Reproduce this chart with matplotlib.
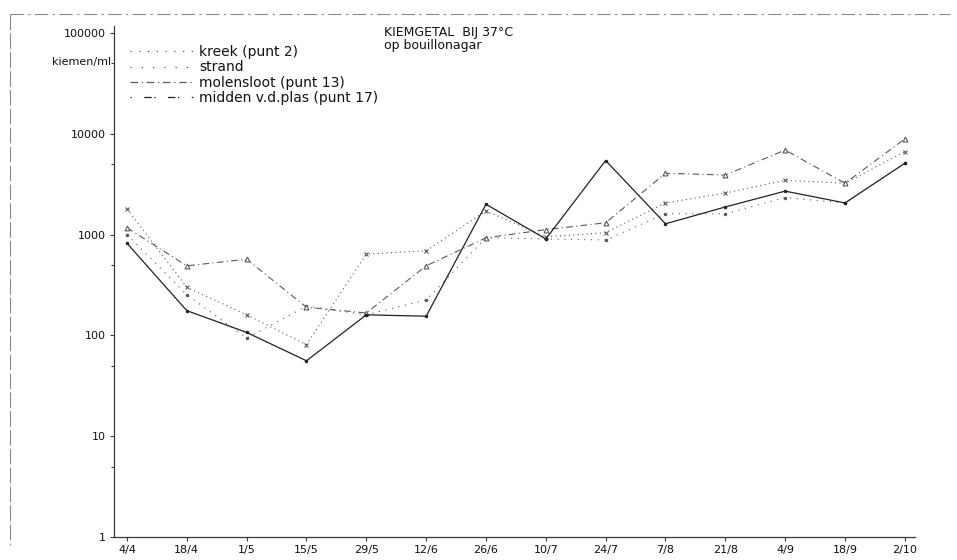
import numpy as np
import matplotlib.pyplot as plt
from matplotlib.lines import Line2D
from matplotlib.ticker import FixedLocator

# bemonsteringsdata, kiemen/ml bij 37 C op bouillonagar
dates = ["4/4", "18/4", "1/5", "15/5", "29/5", "12/6", "26/6",
         "10/7", "24/7", "7/8", "21/8", "4/9", "18/9", "2/10"]
kreek = [1800, 300, 160, 81, 640, 690, 1720, 950, 1045, 2060, 2580, 3460, 3230, 6650]
strand = [1000, 253, 94, 195, 160, 225, 930, 905, 885, 1610, 1610, 2330, 2060, 5100]
molensloot = [1170, 490, 570, 190, 167, 490, 930, 1120, 1310, 4060, 3900, 6900, 3230, 8900]
midden = [820, 176, 107, 56, 160, 155, 2000, 905, 5430, 1280, 1880, 2700, 2060, 5100]

ink = "#3a3a3a"
faint = "#5a5a5a"
W, H = 957, 560

fig = plt.figure(figsize=(9.57, 5.6), dpi=100)
ax = fig.add_axes([114 / W, 1 - 537 / H, (915 - 114) / W, (537 - 26) / H])

x = np.arange(len(dates))
ax.plot(x, kreek, color=faint, lw=0.8, ls=(0, (1, 3)), marker="x", ms=3, mew=0.8)
ax.plot(x, strand, color=faint, lw=0.8, ls=(0, (1, 5)), marker=".", ms=3)
ax.plot(x, molensloot, color=faint, lw=0.8, ls=(0, (6, 3, 1, 3)), marker="^",
        ms=3.5, mfc="white", mew=0.8)
ax.plot(x, midden, color="#222222", lw=0.9, ls="-", marker=".", ms=3)

ax.set_yscale("log")
ax.set_ylim(1, 10 ** (511 / 100.8))
ax.set_xlim(-0.217, 13.17)

ax.set_xticks(x, dates)
ax.set_yticks([1, 10, 100, 1000, 10000, 100000],
              ["1", "10", "100", "1000", "10000", "100000"])
ax.yaxis.set_minor_locator(FixedLocator([5, 50, 500, 5000, 50000]))
ax.yaxis.set_minor_formatter(plt.NullFormatter())
ax.tick_params(axis="both", which="major", length=3, width=0.8, color=ink,
               labelsize=8, labelcolor="#111111", pad=3)
ax.tick_params(axis="y", which="minor", length=2, width=0.8, color=ink)

for side in ("top", "right"):
    ax.spines[side].set_visible(False)
for side in ("left", "bottom"):
    ax.spines[side].set_color(ink)
    ax.spines[side].set_linewidth(0.9)

fig.text(111 / W, 1 - 62 / H, "kiemen/ml", ha="right", va="center",
         fontsize=8, color="#111111")

# legenda zonder kader
handles = [
    Line2D([], [], color=faint, lw=0.9, ls=(0, (1, 6))),
    Line2D([], [], color=faint, lw=0.9, ls=(0, (1, 8))),
    Line2D([], [], color=faint, lw=0.9, ls=(0, (6, 3, 1, 3))),
    Line2D([], [], color="#222222", lw=0.9, ls=(0, (1, 10, 6, 2))),
]
labels = ["kreek (punt 2)", "strand", "molensloot (punt 13)",
          "midden v.d.plas (punt 17)"]
fig.legend(handles, labels, loc="upper left",
           bbox_to_anchor=(130 / W, 1 - 45 / H), frameon=False,
           fontsize=10, handlelength=4.5, handletextpad=0.5,
           labelspacing=0.1, borderpad=0, borderaxespad=0, labelcolor="#111111")

fig.text(384 / W, 1 - 39 / H, "KIEMGETAL  BIJ 37°C\nop bouillonagar",
         fontsize=9, va="center", ha="left", linespacing=0.95,
         color="#111111")

# kader van het blad
fig.add_artist(Line2D([10 / W, 950 / W], [1 - 14 / H, 1 - 14 / H],
                      color="#888888", lw=0.8, ls=(0, (12, 4, 2, 4))))
fig.add_artist(Line2D([10 / W, 10 / W], [1 - 14 / H, 1 - 545 / H],
                      color="#888888", lw=0.8, ls=(0, (14, 3))))

fig.savefig("out.png", dpi=100)
